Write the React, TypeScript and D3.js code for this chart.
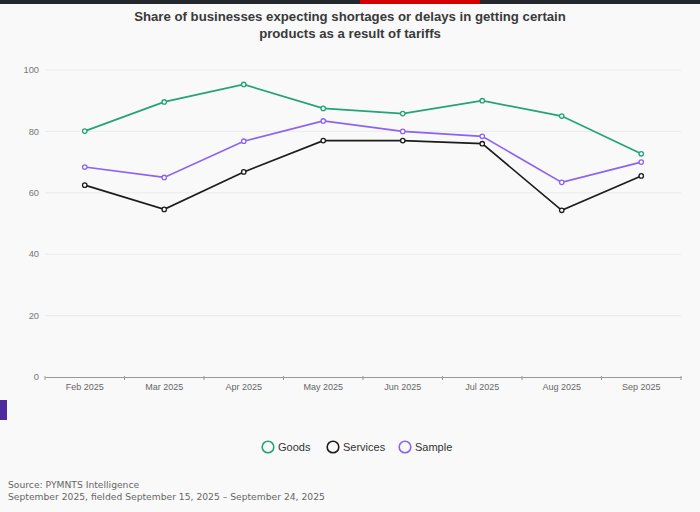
import * as d3 from "d3";
import { useEffect, useRef } from "react";

const months = ["Feb 2025", "Mar 2025", "Apr 2025", "May 2025", "Jun 2025", "Jul 2025", "Aug 2025", "Sep 2025"];
const goods = [80.1, 89.6, 95.3, 87.5, 85.8, 90.0, 85.0, 72.7];
const services = [62.5, 54.6, 66.8, 77.0, 77.0, 76.0, 54.3, 65.5];
const sample = [68.4, 65.0, 76.8, 83.4, 80.0, 78.4, 63.4, 70.0];
const yTicks = [0, 20, 40, 60, 80, 100];

const seriesList = [
  { name: "Goods", values: goods, color: "#22a37a" },
  { name: "Services", values: services, color: "#1c1c1c" },
  { name: "Sample", values: sample, color: "#8b63f2" },
];

export default function App() {
  const ref = useRef<SVGSVGElement>(null);

  useEffect(() => {
    const svg = d3.select(ref.current);
    svg.selectAll("*").remove();

    const width = 700;
    const height = 512;
    const margin = { top: 70, right: 19, bottom: 135, left: 45 };
    const font = "Helvetica, Arial, 'Liberation Sans', sans-serif";

    svg.append("rect").attr("width", width).attr("height", height).attr("fill", "#f9f9f9");

    // top strip
    svg.append("rect").attr("x", 0).attr("y", 0).attr("width", width).attr("height", 4).attr("fill", "#24272b");
    svg.append("rect").attr("x", 360).attr("y", 0).attr("width", 120).attr("height", 4).attr("fill", "#d40000");

    // side tab
    svg.append("rect").attr("x", 0).attr("y", 400).attr("width", 7).attr("height", 20).attr("fill", "#4e2a9c");

    // Title
    const title = svg
      .append("text")
      .attr("text-anchor", "middle")
      .attr("font-family", font)
      .attr("font-weight", "bold")
      .attr("font-size", 13.2)
      .attr("fill", "#3a3a3a");
    title.append("tspan").attr("x", width / 2).attr("y", 21).text("Share of businesses expecting shortages or delays in getting certain");
    title.append("tspan").attr("x", width / 2).attr("y", 38).text("products as a result of tariffs");

    // Scales
    const x = d3
      .scaleBand()
      .domain(months)
      .range([margin.left, width - margin.right]);

    const y = d3
      .scaleLinear()
      .domain([0, 100])
      .range([height - margin.bottom, margin.top]);

    // Grid
    svg
      .append("g")
      .selectAll("line")
      .data(yTicks.filter((d) => d > 0))
      .enter()
      .append("line")
      .attr("x1", margin.left)
      .attr("x2", width - margin.right)
      .attr("y1", (d) => y(d))
      .attr("y2", (d) => y(d))
      .attr("stroke", "#ebebeb")
      .attr("stroke-width", 1);

    // Y labels
    svg
      .append("g")
      .selectAll("text")
      .data(yTicks)
      .enter()
      .append("text")
      .attr("x", margin.left - 6)
      .attr("y", (d) => y(d))
      .attr("dy", "0.35em")
      .attr("text-anchor", "end")
      .attr("font-family", font)
      .attr("font-size", 9.3)
      .attr("fill", "#777")
      .text((d) => d);

    // X axis
    const xAxis = svg
      .append("g")
      .attr("transform", `translate(0,${height - margin.bottom})`)
      .call(d3.axisBottom(x).tickSize(0).tickPadding(7));
    xAxis.select(".domain").attr("stroke", "#999");
    xAxis
      .selectAll("text")
      .attr("font-family", font)
      .attr("font-size", 9)
      .attr("fill", "#666");

    const bounds = months.map((m) => x(m) as number).concat([width - margin.right]);
    xAxis
      .selectAll(".bound")
      .data(bounds)
      .enter()
      .append("line")
      .attr("x1", (d) => d)
      .attr("x2", (d) => d)
      .attr("y1", -1)
      .attr("y2", 3)
      .attr("stroke", "#999");

    const cx = (i: number) => (x(months[i]) as number) + x.bandwidth() / 2;

    // Lines
    const line = d3
      .line<number>()
      .x((d, i) => cx(i))
      .y((d) => y(d));

    seriesList.forEach((s) => {
      svg
        .append("path")
        .datum(s.values)
        .attr("fill", "none")
        .attr("stroke", s.color)
        .attr("stroke-width", 1.7)
        .attr("d", line);

      svg
        .append("g")
        .selectAll("circle")
        .data(s.values)
        .enter()
        .append("circle")
        .attr("cx", (d, i) => cx(i))
        .attr("cy", (d) => y(d))
        .attr("r", 2.2)
        .attr("fill", "#fff")
        .attr("stroke", s.color)
        .attr("stroke-width", 1.3);
    });

    // Legend
    const legendX = [268, 333, 405];
    const legend = svg
      .append("g")
      .selectAll("g")
      .data(seriesList)
      .enter()
      .append("g")
      .attr("transform", (d, i) => `translate(${legendX[i]},447)`);
    legend
      .append("circle")
      .attr("r", 5.8)
      .attr("fill", "none")
      .attr("stroke", (d) => d.color)
      .attr("stroke-width", 1.6);
    legend
      .append("text")
      .attr("x", 10)
      .attr("y", 4)
      .attr("font-family", font)
      .attr("font-size", 11)
      .attr("fill", "#333")
      .text((d) => d.name);

    // Source
    const src = svg
      .append("g")
      .attr("font-family", "'DejaVu Sans', sans-serif")
      .attr("font-size", 9.2)
      .attr("fill", "#666");
    src.append("text").attr("x", 8).attr("y", 488).text("Source: PYMNTS Intelligence");
    src.append("text").attr("x", 8).attr("y", 500).text("September 2025, fielded September 15, 2025 – September 24, 2025");
  }, []);

  return (
    <svg
      ref={ref}
      width={700}
      height={512}
      style={{ display: "block", position: "absolute", left: 0, top: 0 }}
    />
  );
}
